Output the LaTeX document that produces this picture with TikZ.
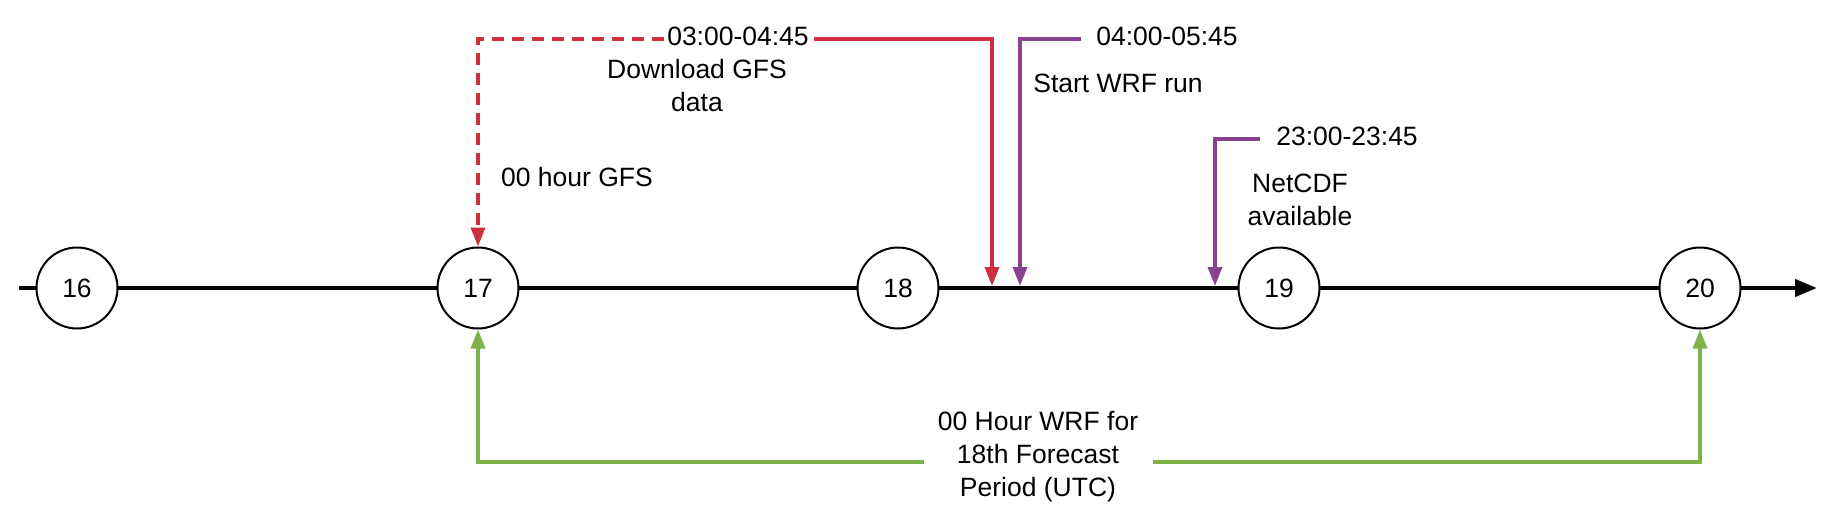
\documentclass[tikz,border=0pt]{standalone}
\usepackage{fontspec}
\setmainfont{Liberation Sans}
\usetikzlibrary{arrows.meta, positioning}

\definecolor{gfsred}{HTML}{CE2F3D}
\definecolor{wrfpurple}{HTML}{87438D}
\definecolor{periodgreen}{HTML}{7DB44A}

\begin{document}
\begin{tikzpicture}[
    x=1pt, y=-1pt,
    font=\fontsize{26.5}{33}\selectfont,
    hour/.style={draw, circle, line width=2pt, fill=white, minimum size=81pt, inner sep=0pt},
    note/.style={align=center},
    arrow/.style={-{Triangle[length=19pt, width=14pt]}},
    redline/.style={draw=gfsred, line width=3.5pt},
    purpleline/.style={draw=wrfpurple, line width=3.5pt},
    greenline/.style={draw=periodgreen, line width=3.5pt}
]
\useasboundingbox (0,0) rectangle (1831,506);
% time axis
\coordinate (axisstart) at (19,288);
\coordinate (axisend) at (1817,288);
\draw[line width=4pt, -{Triangle[length=22pt, width=17pt]}] (axisstart) -- (axisend);
\node[hour] (h16) at (77,288) {16};
\node[hour] (h17) at (478,288) {17};
\node[hour] (h18) at (898,288) {18};
\node[hour] (h19) at (1279,288) {19};
\node[hour] (h20) at (1700,288) {20};
% GFS download
\node (dltime) at (738,36) {03:00-04:45};
\node[note] (dlnote) at (697,86) {Download GFS\\data};
\node (gfsnote) at (577,177) {00 hour GFS};
\coordinate (dlmark) at (992,286);
\draw[redline, arrow, dash pattern=on 12pt off 8pt] ([yshift=-3pt]dltime.west) -| (h17.north);
\draw[redline, arrow] ([xshift=2pt, yshift=-3pt]dltime.east) -| (dlmark);
% WRF run
\node (runtime) at (1167,36) {04:00-05:45};
\node (runnote) at (1118,83) {Start WRF run};
\coordinate (runmark) at (1020,286);
\draw[purpleline, arrow] ([xshift=-12pt, yshift=-3pt]runtime.west) -| (runmark);
% NetCDF output
\node (cdftime) at (1347,136) {23:00-23:45};
\node[note] (cdfnote) at (1300,200) {NetCDF\\available};
\coordinate (cdfmark) at (1215,286);
\draw[purpleline, arrow] ([xshift=-13pt, yshift=-3pt]cdftime.west) -| (cdfmark);
% forecast period
\node[note] (wrfnote) at (1038,457) {00 Hour WRF for\\18th Forecast\\Period (UTC)};
\draw[greenline, arrow] ([xshift=-10pt, yshift=-5pt]wrfnote.west) -| (h17.south);
\draw[greenline, arrow] ([xshift=11pt, yshift=-5pt]wrfnote.east) -| (h20.south);
\end{tikzpicture}
\end{document}
